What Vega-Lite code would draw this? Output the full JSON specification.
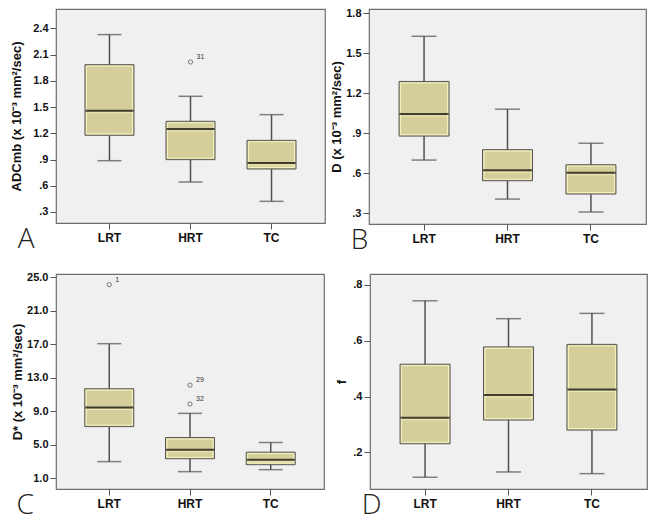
{
  "$schema": "https://vega.github.io/schema/vega-lite/v6.json",
  "padding": {"left": 10, "top": 6, "right": 3, "bottom": 3},
  "background": "white",
  "config": {
    "view": {"stroke": "#6E6E6E", "fill": "#F0F0F0", "strokeWidth": 1.2},
    "axis": {"grid": false, "domain": false, "tickColor": "#555555", "tickSize": 6, "labelOverlap": false, "labelFont": "Liberation Sans", "labelFontWeight": "bold", "labelColor": "#111111", "titleFont": "Liberation Sans", "titleFontWeight": "bold", "titleColor": "#111111"},
    "axisX": {"labelFontSize": 12, "labelAngle": 0, "labelPadding": 3},
    "axisY": {"labelFontSize": 11, "titleFontSize": 13, "labelPadding": 2, "tickCount": 20},
    "title": {"orient": "bottom", "anchor": "start", "frame": "bounds", "fontSize": 28, "font": "Open Sans", "fontWeight": 300, "color": "#222222", "offset": -17}
  },
  "datasets": {
    "stats": [
      {"panel": "A", "g": "LRT", "lo": 0.887, "q1": 1.178, "med": 1.46, "q3": 1.986, "hi": 2.33},
      {"panel": "A", "g": "HRT", "lo": 0.643, "q1": 0.899, "med": 1.25, "q3": 1.338, "hi": 1.624},
      {"panel": "A", "g": "TC", "lo": 0.422, "q1": 0.792, "med": 0.861, "q3": 1.12, "hi": 1.414},
      {"panel": "B", "g": "LRT", "lo": 0.698, "q1": 0.878, "med": 1.043, "q3": 1.288, "hi": 1.627},
      {"panel": "B", "g": "HRT", "lo": 0.405, "q1": 0.543, "med": 0.622, "q3": 0.776, "hi": 1.08},
      {"panel": "B", "g": "TC", "lo": 0.308, "q1": 0.443, "med": 0.603, "q3": 0.663, "hi": 0.824},
      {"panel": "C", "g": "LRT", "lo": 3.0, "q1": 7.18, "med": 9.47, "q3": 11.7, "hi": 17.08},
      {"panel": "C", "g": "HRT", "lo": 1.8, "q1": 3.34, "med": 4.41, "q3": 5.87, "hi": 8.76},
      {"panel": "C", "g": "TC", "lo": 2.04, "q1": 2.63, "med": 3.22, "q3": 4.13, "hi": 5.28},
      {"panel": "D", "g": "LRT", "lo": 0.111, "q1": 0.231, "med": 0.324, "q3": 0.516, "hi": 0.743},
      {"panel": "D", "g": "HRT", "lo": 0.13, "q1": 0.316, "med": 0.406, "q3": 0.578, "hi": 0.679},
      {"panel": "D", "g": "TC", "lo": 0.124, "q1": 0.28, "med": 0.425, "q3": 0.587, "hi": 0.698}
    ],
    "out": [
      {"panel": "A", "g": "HRT", "v": 2.017, "label": "31"},
      {"panel": "C", "g": "LRT", "v": 24.13, "label": "1"},
      {"panel": "C", "g": "HRT", "v": 12.13, "label": "29"},
      {"panel": "C", "g": "HRT", "v": 9.87, "label": "32"}
    ]
  },
  "spacing": 14,
  "vconcat": [
    {
      "spacing": 4,
      "hconcat": [
        {
          "width": 269, "height": 214,
          "title": {"text": "A", "dx": 7},
          "data": {"name": "stats"},
          "transform": [{"filter": "datum.panel === 'A'"}],
          "encoding": {"x": {"field": "g", "type": "nominal", "sort": ["LRT", "HRT", "TC"], "title": null, "scale": {"paddingInner": 0, "paddingOuter": 0.16}}},
          "layer": [
            {"mark": {"type": "rule", "color": "#505050", "strokeWidth": 1.5}, "encoding": {"y": {"field": "lo", "type": "quantitative", "title": "ADCmb (x 10⁻³ mm²/sec)", "scale": {"domain": [0.174, 2.623], "nice": false, "zero": false}, "axis": {"values": [0.3, 0.6, 0.9, 1.2, 1.5, 1.8, 2.1, 2.4], "tickCount": 20, "titlePadding": 9, "labelExpr": "datum.value < 1 ? substring(format(datum.value, '.1f'), 1) : format(datum.value, '.1f')"}}, "y2": {"field": "hi"}}},
            {"mark": {"type": "tick", "color": "#505050", "size": 24, "thickness": 1.5}, "encoding": {"y": {"field": "lo", "type": "quantitative", "title": "ADCmb (x 10⁻³ mm²/sec)"}}},
            {"mark": {"type": "tick", "color": "#505050", "size": 24, "thickness": 1.5}, "encoding": {"y": {"field": "hi", "type": "quantitative", "title": "ADCmb (x 10⁻³ mm²/sec)"}}},
            {"mark": {"type": "bar", "size": 49, "fill": "#D4CF9A", "stroke": "#555555", "strokeWidth": 1}, "encoding": {"y": {"field": "q3", "type": "quantitative", "title": "ADCmb (x 10⁻³ mm²/sec)"}, "y2": {"field": "q1"}}},
            {"mark": {"type": "bar", "size": 46, "fillOpacity": 0, "stroke": "#F6F2C2", "strokeWidth": 1, "yOffset": 1.5, "y2Offset": -1.5}, "encoding": {"y": {"field": "q3", "type": "quantitative", "title": "ADCmb (x 10⁻³ mm²/sec)"}, "y2": {"field": "q1"}}},
            {"mark": {"type": "tick", "color": "#F6F2C2", "size": 46, "thickness": 1, "yOffset": 2}, "encoding": {"y": {"field": "med", "type": "quantitative", "title": "ADCmb (x 10⁻³ mm²/sec)"}}},
            {"mark": {"type": "tick", "color": "#000000", "size": 48, "thickness": 2}, "encoding": {"y": {"field": "med", "type": "quantitative", "title": "ADCmb (x 10⁻³ mm²/sec)"}}},
            {"data": {"name": "out"}, "transform": [{"filter": "datum.panel === 'A'"}], "mark": {"type": "point", "shape": "circle", "size": 18, "filled": false, "stroke": "#444444", "strokeWidth": 1}, "encoding": {"y": {"field": "v", "type": "quantitative", "title": "ADCmb (x 10⁻³ mm²/sec)"}}},
            {"data": {"name": "out"}, "transform": [{"filter": "datum.panel === 'A'"}], "mark": {"type": "text", "fontSize": 7, "dx": 6, "dy": -5, "align": "left", "color": "#333333", "font": "Liberation Sans"}, "encoding": {"y": {"field": "v", "type": "quantitative", "title": "ADCmb (x 10⁻³ mm²/sec)"}, "text": {"field": "label"}}}
          ]
        },
        {
          "width": 277, "height": 215,
          "title": {"text": "B", "dx": 20},
          "data": {"name": "stats"},
          "transform": [{"filter": "datum.panel === 'B'"}],
          "encoding": {"x": {"field": "g", "type": "nominal", "sort": ["LRT", "HRT", "TC"], "title": null, "scale": {"paddingInner": 0, "paddingOuter": 0.16}}},
          "layer": [
            {"mark": {"type": "rule", "color": "#505050", "strokeWidth": 1.5}, "encoding": {"y": {"field": "lo", "type": "quantitative", "title": "D (x 10⁻³ mm²/sec)", "scale": {"domain": [0.218, 1.832], "nice": false, "zero": false}, "axis": {"values": [0.3, 0.6, 0.9, 1.2, 1.5, 1.8], "tickCount": 20, "titlePadding": 2, "labelExpr": "datum.value < 1 ? substring(format(datum.value, '.1f'), 1) : format(datum.value, '.1f')"}}, "y2": {"field": "hi"}}},
            {"mark": {"type": "tick", "color": "#505050", "size": 25, "thickness": 1.5}, "encoding": {"y": {"field": "lo", "type": "quantitative", "title": "D (x 10⁻³ mm²/sec)"}}},
            {"mark": {"type": "tick", "color": "#505050", "size": 25, "thickness": 1.5}, "encoding": {"y": {"field": "hi", "type": "quantitative", "title": "D (x 10⁻³ mm²/sec)"}}},
            {"mark": {"type": "bar", "size": 50, "fill": "#D4CF9A", "stroke": "#555555", "strokeWidth": 1}, "encoding": {"y": {"field": "q3", "type": "quantitative", "title": "D (x 10⁻³ mm²/sec)"}, "y2": {"field": "q1"}}},
            {"mark": {"type": "bar", "size": 47, "fillOpacity": 0, "stroke": "#F6F2C2", "strokeWidth": 1, "yOffset": 1.5, "y2Offset": -1.5}, "encoding": {"y": {"field": "q3", "type": "quantitative", "title": "D (x 10⁻³ mm²/sec)"}, "y2": {"field": "q1"}}},
            {"mark": {"type": "tick", "color": "#F6F2C2", "size": 47, "thickness": 1, "yOffset": 2}, "encoding": {"y": {"field": "med", "type": "quantitative", "title": "D (x 10⁻³ mm²/sec)"}}},
            {"mark": {"type": "tick", "color": "#000000", "size": 49, "thickness": 2}, "encoding": {"y": {"field": "med", "type": "quantitative", "title": "D (x 10⁻³ mm²/sec)"}}}
          ]
        }
      ]
    },
    {
      "spacing": 10,
      "hconcat": [
        {
          "width": 268, "height": 215,
          "title": {"text": "C", "dx": 5},
          "data": {"name": "stats"},
          "transform": [{"filter": "datum.panel === 'C'"}],
          "encoding": {"x": {"field": "g", "type": "nominal", "sort": ["LRT", "HRT", "TC"], "title": null, "scale": {"paddingInner": 0, "paddingOuter": 0.16}}},
          "layer": [
            {"mark": {"type": "rule", "color": "#505050", "strokeWidth": 1.5}, "encoding": {"y": {"field": "lo", "type": "quantitative", "title": "D* (x 10⁻³ mm²/sec)", "scale": {"domain": [-0.27, 25.4], "nice": false, "zero": false}, "axis": {"values": [1, 5, 9, 13, 17, 21, 25], "tickCount": 20, "titlePadding": 2, "format": ".1f"}}, "y2": {"field": "hi"}}},
            {"mark": {"type": "tick", "color": "#505050", "size": 24, "thickness": 1.5}, "encoding": {"y": {"field": "lo", "type": "quantitative", "title": "D* (x 10⁻³ mm²/sec)"}}},
            {"mark": {"type": "tick", "color": "#505050", "size": 24, "thickness": 1.5}, "encoding": {"y": {"field": "hi", "type": "quantitative", "title": "D* (x 10⁻³ mm²/sec)"}}},
            {"mark": {"type": "bar", "size": 49, "fill": "#D4CF9A", "stroke": "#555555", "strokeWidth": 1}, "encoding": {"y": {"field": "q3", "type": "quantitative", "title": "D* (x 10⁻³ mm²/sec)"}, "y2": {"field": "q1"}}},
            {"mark": {"type": "bar", "size": 46, "fillOpacity": 0, "stroke": "#F6F2C2", "strokeWidth": 1, "yOffset": 1.5, "y2Offset": -1.5}, "encoding": {"y": {"field": "q3", "type": "quantitative", "title": "D* (x 10⁻³ mm²/sec)"}, "y2": {"field": "q1"}}},
            {"mark": {"type": "tick", "color": "#F6F2C2", "size": 46, "thickness": 1, "yOffset": 2}, "encoding": {"y": {"field": "med", "type": "quantitative", "title": "D* (x 10⁻³ mm²/sec)"}}},
            {"mark": {"type": "tick", "color": "#000000", "size": 48, "thickness": 2}, "encoding": {"y": {"field": "med", "type": "quantitative", "title": "D* (x 10⁻³ mm²/sec)"}}},
            {"data": {"name": "out"}, "transform": [{"filter": "datum.panel === 'C'"}], "mark": {"type": "point", "shape": "circle", "size": 18, "filled": false, "stroke": "#444444", "strokeWidth": 1}, "encoding": {"y": {"field": "v", "type": "quantitative", "title": "D* (x 10⁻³ mm²/sec)"}}},
            {"data": {"name": "out"}, "transform": [{"filter": "datum.panel === 'C'"}], "mark": {"type": "text", "fontSize": 7, "dx": 6, "dy": -5, "align": "left", "color": "#333333", "font": "Liberation Sans"}, "encoding": {"y": {"field": "v", "type": "quantitative", "title": "D* (x 10⁻³ mm²/sec)"}, "text": {"field": "label"}}}
          ]
        },
        {
          "width": 277, "height": 215,
          "title": {"text": "D", "dx": 26},
          "data": {"name": "stats"},
          "transform": [{"filter": "datum.panel === 'D'"}],
          "encoding": {"x": {"field": "g", "type": "nominal", "sort": ["LRT", "HRT", "TC"], "title": null, "scale": {"paddingInner": 0, "paddingOuter": 0.16}}},
          "layer": [
            {"mark": {"type": "rule", "color": "#505050", "strokeWidth": 1.5}, "encoding": {"y": {"field": "lo", "type": "quantitative", "title": "f", "scale": {"domain": [0.069, 0.839], "nice": false, "zero": false}, "axis": {"values": [0.2, 0.4, 0.6, 0.8], "tickCount": 20, "titlePadding": 4, "labelExpr": "datum.value < 1 ? substring(format(datum.value, '.1f'), 1) : format(datum.value, '.1f')"}}, "y2": {"field": "hi"}}},
            {"mark": {"type": "tick", "color": "#505050", "size": 25, "thickness": 1.5}, "encoding": {"y": {"field": "lo", "type": "quantitative", "title": "f"}}},
            {"mark": {"type": "tick", "color": "#505050", "size": 25, "thickness": 1.5}, "encoding": {"y": {"field": "hi", "type": "quantitative", "title": "f"}}},
            {"mark": {"type": "bar", "size": 50, "fill": "#D4CF9A", "stroke": "#555555", "strokeWidth": 1}, "encoding": {"y": {"field": "q3", "type": "quantitative", "title": "f"}, "y2": {"field": "q1"}}},
            {"mark": {"type": "bar", "size": 47, "fillOpacity": 0, "stroke": "#F6F2C2", "strokeWidth": 1, "yOffset": 1.5, "y2Offset": -1.5}, "encoding": {"y": {"field": "q3", "type": "quantitative", "title": "f"}, "y2": {"field": "q1"}}},
            {"mark": {"type": "tick", "color": "#F6F2C2", "size": 47, "thickness": 1, "yOffset": 2}, "encoding": {"y": {"field": "med", "type": "quantitative", "title": "f"}}},
            {"mark": {"type": "tick", "color": "#000000", "size": 49, "thickness": 2}, "encoding": {"y": {"field": "med", "type": "quantitative", "title": "f"}}}
          ]
        }
      ]
    }
  ]
}
